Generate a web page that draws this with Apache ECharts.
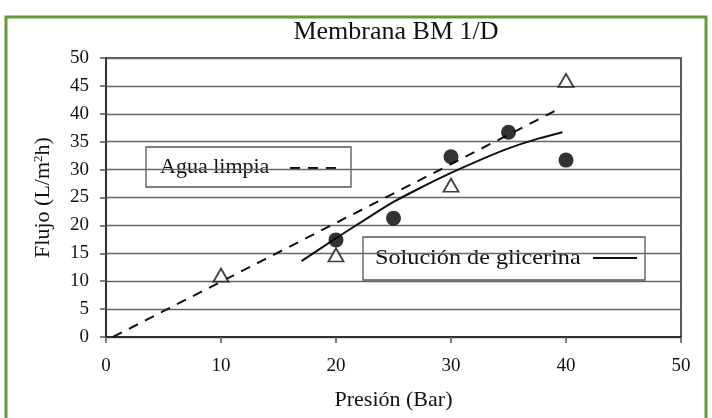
<!DOCTYPE html>
<html>
<head>
<meta charset="utf-8">
<script src="https://cdn.jsdelivr.net/npm/echarts@6/dist/echarts.min.js"></script>
<style>
  html, body { margin: 0; padding: 0; background: #fff; }
  #chart { width: 712px; height: 418px; }
</style>
</head>
<body>
<div id="chart"></div>
<script>
// Measured points: clean water (triangles) and glycerine solution (dots)
const presionAgua = [10, 20, 30, 40];
const flujoAgua = [11.1, 14.7, 27.2, 46.0];
const presionGlicerina = [20, 25, 30, 35, 40];
const flujoGlicerina = [17.4, 21.3, 32.3, 36.7, 31.7];

// Trend lines
const tendenciaAguaX = [0.6, 39.5];
const tendenciaAguaY = [0, 41.0];
const tendenciaGlicerinaX = [17, 20, 22.5, 25, 27.5, 30, 32.5, 35, 37.5, 39.7];
const tendenciaGlicerinaY = [13.6, 17.7, 21.0, 24.2, 26.9, 29.4, 31.7, 33.8, 35.5, 36.7];

// Axis ticks
const ejeX = { min: 0, max: 50, interval: 10 };
const ejeY = { min: 0, max: 50, interval: 5 };

const pares = (xs, ys) => xs.map((x, i) => [x, ys[i]]);

const serif = '"Liberation Serif", "DejaVu Serif", serif';
const chart = echarts.init(document.getElementById('chart'), null, { renderer: 'canvas' });

chart.setOption({
  animation: false,
  backgroundColor: '#fff',
  title: {
    text: 'Membrana BM 1/D',
    left: 391,
    top: 14,
    textAlign: 'center',
    textStyle: { fontFamily: serif, fontSize: 26, fontWeight: 'normal', color: '#111' }
  },
  grid: {
    left: 106, right: 31, top: 58, bottom: 81,
    show: true, borderColor: '#222', borderWidth: 1.5, backgroundColor: 'transparent'
  },
  xAxis: {
    type: 'value',
    min: ejeX.min, max: ejeX.max, interval: ejeX.interval,
    name: 'Presión (Bar)',
    nameLocation: 'middle',
    nameGap: 52,
    nameTextStyle: { fontFamily: serif, fontSize: 22, color: '#111' },
    axisLine: { show: true, lineStyle: { color: '#222', width: 1.5 } },
    axisTick: { show: true, inside: false, length: 6, lineStyle: { color: '#555', width: 1.5 } },
    axisLabel: { margin: 20, fontFamily: serif, fontSize: 19, color: '#111' },
    splitLine: { show: false }
  },
  yAxis: {
    type: 'value',
    min: ejeY.min, max: ejeY.max, interval: ejeY.interval,
    name: 'Flujo (L/m{sup|2}h)',
    nameLocation: 'middle',
    nameGap: 52,
    nameRotate: 90,
    nameTextStyle: {
      fontFamily: serif, fontSize: 22, color: '#111',
      rich: { sup: { fontFamily: serif, fontSize: 13, color: '#111', verticalAlign: 'top', padding: [0, 0, 8, 0] } }
    },
    axisLine: { show: true, lineStyle: { color: '#222', width: 1.5 } },
    axisTick: { show: true, inside: false, length: 6, lineStyle: { color: '#555', width: 1.5 } },
    axisLabel: { margin: 17, fontFamily: serif, fontSize: 19, color: '#111' },
    splitLine: { show: true, lineStyle: { color: '#666', width: 1.4 } }
  },
  series: [
    {
      name: 'Agua limpia',
      type: 'line',
      data: pares(tendenciaAguaX, tendenciaAguaY),
      symbol: 'none',
      lineStyle: { color: '#111', width: 2, type: [10, 8] },
      z: 3
    },
    {
      name: 'Solución de glicerina',
      type: 'line',
      data: pares(tendenciaGlicerinaX, tendenciaGlicerinaY),
      symbol: 'none',
      smooth: 0.3,
      lineStyle: { color: '#111', width: 2 },
      z: 3
    },
    {
      name: 'Agua limpia (medida)',
      type: 'scatter',
      data: pares(presionAgua, flujoAgua),
      symbol: 'triangle',
      symbolSize: [15, 13],
      itemStyle: { color: '#fff', borderColor: '#111', borderWidth: 1.8 },
      z: 4
    },
    {
      name: 'Solución de glicerina (medida)',
      type: 'scatter',
      data: pares(presionGlicerina, flujoGlicerina),
      symbol: 'circle',
      symbolSize: 15,
      itemStyle: { color: '#000' },
      z: 4
    }
  ],
  graphic: [
    // outer green frame
    {
      type: 'rect', silent: true, z: 0,
      shape: { x: 6, y: 17, width: 700, height: 420 },
      style: { fill: 'none', stroke: '#62993a', lineWidth: 3 }
    },
    // key: clean water
    {
      type: 'group', z: 10,
      children: [
        { type: 'rect', shape: { x: 146, y: 147, width: 205, height: 40 },
          style: { fill: '#fff', stroke: '#555', lineWidth: 1.3 } },
        { type: 'text', x: 160, y: 167,
          style: { text: 'Agua limpia', fontFamily: serif, fontSize: 22, fill: '#111', verticalAlign: 'middle' } },
        { type: 'line', shape: { x1: 290, y1: 168, x2: 342, y2: 168 },
          style: { stroke: '#111', lineWidth: 2, lineDash: [10, 8] } }
      ]
    },
    // key: glycerine solution
    {
      type: 'group', z: 10,
      children: [
        { type: 'rect', shape: { x: 363, y: 237, width: 282, height: 43 },
          style: { fill: '#fff', stroke: '#555', lineWidth: 1.3 } },
        { type: 'text', x: 375, y: 258, scaleX: 1.1,
          style: { text: 'Solución de glicerina', fontFamily: serif, fontSize: 22, fill: '#111', verticalAlign: 'middle' } },
        { type: 'line', shape: { x1: 593, y1: 258, x2: 637, y2: 258 },
          style: { stroke: '#111', lineWidth: 2 } }
      ]
    }
  ]
});
</script>
</body>
</html>
